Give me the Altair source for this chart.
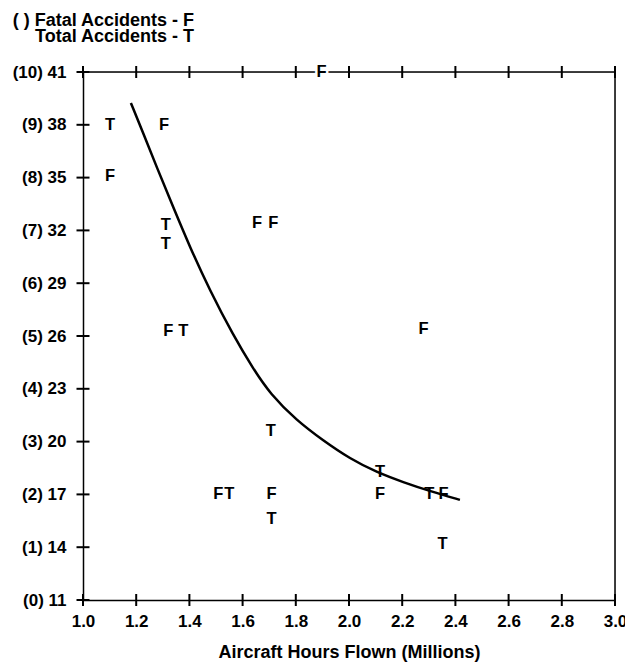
import altair as alt
import pandas as pd

# Fatal accident letters (F) and total accident letters (T)
f_x = [1.305, 1.102, 1.654, 1.715, 1.321, 2.28, 1.509, 1.709, 2.117, 2.355, 1.897]
f_y = [38.0, 35.1, 32.4, 32.4, 26.3, 26.4, 17.0, 17.0, 17.0, 17.0, 41.0]
t_x = [1.102, 1.311, 1.311, 1.377, 1.706, 1.55, 1.709, 2.117, 2.302, 2.352]
t_y = [38.0, 32.3, 31.2, 26.3, 20.6, 17.0, 15.6, 18.3, 17.0, 14.2]

# Fitted curve
curve_x = [1.180, 1.227, 1.277, 1.339, 1.402, 1.477, 1.565, 1.639, 1.703, 1.803,
           1.903, 2.004, 2.104, 2.204, 2.305, 2.417]
curve_y = [39.24, 37.50, 35.60, 33.33, 31.05, 28.59, 26.03, 24.16, 22.72, 21.20,
           20.06, 19.02, 18.26, 17.69, 17.18, 16.69]

# Axis ticks
x_ticks = [1.0, 1.2, 1.4, 1.6, 1.8, 2.0, 2.2, 2.4, 2.6, 2.8, 3.0]
y_ticks = [11, 14, 17, 20, 23, 26, 29, 32, 35, 38, 41]

title_line1 = "( ) Fatal Accidents - F"
title_line2 = "Total Accidents - T"
x_title = "Aircraft Hours Flown (Millions)"

FONT = "Liberation Sans"
W, H = 532, 528

letters = pd.DataFrame({
    "x": f_x + t_x,
    "y": f_y + t_y,
    "label": ["F"] * len(f_x) + ["T"] * len(t_x),
})
curve = pd.DataFrame({"x": curve_x, "y": curve_y})
frame = pd.DataFrame({"x": [x_ticks[0], x_ticks[-1]], "x2": [x_ticks[-1], x_ticks[-1]],
                      "y": [y_ticks[-1], y_ticks[0]], "y2": [y_ticks[-1], y_ticks[-1]]})
vticks = pd.DataFrame({"x": x_ticks + x_ticks,
                       "y": [y_ticks[0]] * len(x_ticks) + [y_ticks[-1]] * len(x_ticks)})
hticks = pd.DataFrame({"x": [x_ticks[0]] * len(y_ticks), "y": y_ticks})

XS = alt.Scale(domain=[1.0, 3.0], nice=False, zero=False)
YS = alt.Scale(domain=[11, 41], nice=False, zero=False)

X_AXIS = alt.Axis(
    title=x_title, values=x_ticks, format=".1f", grid=False,
    ticks=False, tickSize=0, labelFlush=False, labelOverlap=False,
    labelFont=FONT, labelFontSize=17, labelFontWeight="bold", labelColor="black",
    labelPadding=13, domainColor="black", domainWidth=1.5,
    titleFont=FONT, titleFontSize=18, titleFontWeight="bold", titleColor="black",
    titlePadding=14,
)
Y_AXIS = alt.Axis(
    title=None, values=y_ticks, grid=False, ticks=False, tickSize=0,
    labelExpr="'(' + round((datum.value - 11) / 3) + ') ' + datum.value",
    labelFlush=False, labelOverlap=False,
    labelFont=FONT, labelFontSize=17, labelFontWeight="bold", labelColor="black",
    labelPadding=17, domainColor="black", domainWidth=1.5,
)

def X(field="x"):
    return alt.X(f"{field}:Q", scale=XS, axis=X_AXIS)

def Y(field="y"):
    return alt.Y(f"{field}:Q", scale=YS, axis=Y_AXIS)

frame_layer = alt.Chart(frame).mark_rule(color="black", strokeWidth=1.5).encode(
    x=X(), x2="x2:Q", y=Y(), y2="y2:Q"
)

halo = alt.Chart(letters).mark_text(
    font=FONT, fontSize=16.5, fontWeight="bold", color="white",
    stroke="white", strokeWidth=5, align="center", baseline="middle"
).encode(x=X(), y=Y(), text="label:N")

text_layer = alt.Chart(letters).mark_text(
    font=FONT, fontSize=16.5, fontWeight="bold", color="black",
    align="center", baseline="middle"
).encode(x=X(), y=Y(), text="label:N")

curve_layer = alt.Chart(curve).mark_line(
    color="black", strokeWidth=2.5, interpolate="basis"
).encode(x=X(), y=Y())

vtick_layer = alt.Chart(vticks).mark_tick(
    orient="vertical", color="black", thickness=2, size=12, opacity=1
).encode(x=X(), y=Y())

htick_layer = alt.Chart(hticks).mark_tick(
    orient="horizontal", color="black", thickness=2, size=13, opacity=1
).encode(x=X(), y=Y())

title_style = dict(font=FONT, fontSize=18, fontWeight="bold", color="black",
                   align="right", baseline="alphabetic")
title1 = alt.Chart(pd.DataFrame({"t": [title_line1]})).mark_text(**title_style).encode(
    x=alt.value(111), y=alt.value(-46), text="t:N"
)
title2 = alt.Chart(pd.DataFrame({"t": [title_line2]})).mark_text(**title_style).encode(
    x=alt.value(111), y=alt.value(-30), text="t:N"
)

chart = alt.layer(
    frame_layer, halo, text_layer, curve_layer, vtick_layer, htick_layer, title1, title2
).properties(
    width=W, height=H,
    autosize=alt.AutoSizeParams(type="none"),
    padding={"left": 75, "top": 64, "right": 10, "bottom": 63},
).configure_view(strokeWidth=0).configure(background="white")

chart.save("out.html", embed_options={"renderer": "svg", "actions": False})
